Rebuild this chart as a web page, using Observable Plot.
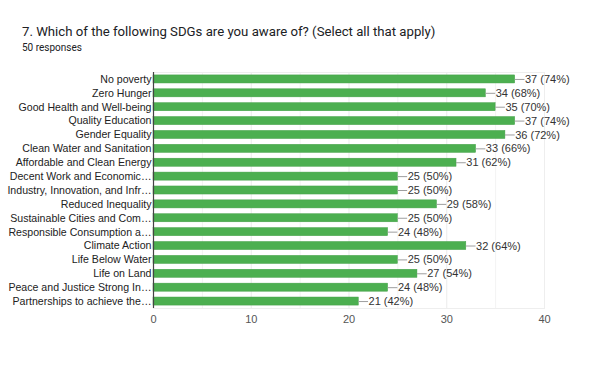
<!DOCTYPE html>
<html>
<head>
<meta charset="utf-8">
<script src="https://cdn.jsdelivr.net/npm/d3@7"></script>
<script src="https://cdn.jsdelivr.net/npm/@observablehq/plot@0.6"></script>
<style>
  html, body { margin: 0; padding: 0; background: #fff; }
  body { width: 606px; height: 372px; overflow: hidden; font-family: Roboto, Arial, sans-serif; }
  #head { height: 60px; position: relative; }
  #title { position: absolute; left: 22px; top: 24px; font-size: 13.2px; color: #202124; white-space: nowrap; }
  #sub { position: absolute; left: 22px; top: 42px; font-size: 10px; color: #202124; }
  svg { display: block; }
</style>
</head>
<body>
<div id="head">
  <div id="title">7. Which of the following SDGs are you aware of? (Select all that apply)</div>
  <div id="sub">50 responses</div>
</div>
<div id="chart"></div>
<script>
const categories = [
  "No poverty",
  "Zero Hunger",
  "Good Health and Well-being",
  "Quality Education",
  "Gender Equality",
  "Clean Water and Sanitation",
  "Affordable and Clean Energy",
  "Decent Work and Economic…",
  "Industry, Innovation, and Infr…",
  "Reduced Inequality",
  "Sustainable Cities and Com…",
  "Responsible Consumption a…",
  "Climate Action",
  "Life Below Water",
  "Life on Land",
  "Peace and Justice Strong In…",
  "Partnerships to achieve the…"
];
const counts = [37, 34, 35, 37, 36, 33, 31, 25, 25, 29, 25, 24, 32, 25, 27, 24, 21];
const percents = [74, 68, 70, 74, 72, 66, 62, 50, 50, 58, 50, 48, 64, 50, 54, 48, 42];
const majorTicks = [0, 10, 20, 30, 40];
const minorTicks = [5, 15, 25, 35];

const data = categories.map((c, i) => ({cat: c, value: counts[i], pct: percents[i]}));

const font = "Arial, 'Liberation Sans', sans-serif";
const chart = Plot.plot({
  width: 606,
  height: 312,
  marginLeft: 153,
  marginRight: 62,
  marginTop: 12,
  marginBottom: 64,
  style: {fontFamily: font, fontSize: "11px", color: "#222", background: "#fff"},
  x: {domain: [0, 40], ticks: majorTicks, tickSize: 0, label: null},
  y: {domain: categories, paddingInner: 0.42, paddingOuter: 0.21, round: false, label: null, tickSize: 0},
  marks: [
    Plot.ruleX(minorTicks, {stroke: "#f3f3f3", strokeWidth: 1}),
    Plot.ruleX(majorTicks.slice(1), {stroke: "#ebebeb", strokeWidth: 1}),
    Plot.frame({stroke: "#eeeeee", strokeWidth: 1}),
    Plot.barX(data, {y: "cat", x: "value", fill: "#4caf50", stroke: "#43a047", strokeWidth: 0.5}),
    Plot.ruleY(data, {y: "cat", x1: "value", x2: d => d.value + 1, stroke: "#9e9e9e", strokeWidth: 1}),
    Plot.text(data, {y: "cat", x: d => d.value + 1, text: d => `${d.value} (${d.pct}%)`, textAnchor: "start", fill: "#333", fontSize: 11}),
    Plot.ruleX([0], {stroke: "#444", strokeWidth: 1.2}),
    Plot.axisX({ticks: majorTicks, tickSize: 0, tickPadding: 7, fill: "#555", fontSize: 11, label: null}),
    Plot.axisY({tickSize: 0, tickPadding: 2, fill: "#222", fontSize: 10.6, label: null})
  ]
});
document.getElementById("chart").appendChild(chart);
</script>
</body>
</html>
